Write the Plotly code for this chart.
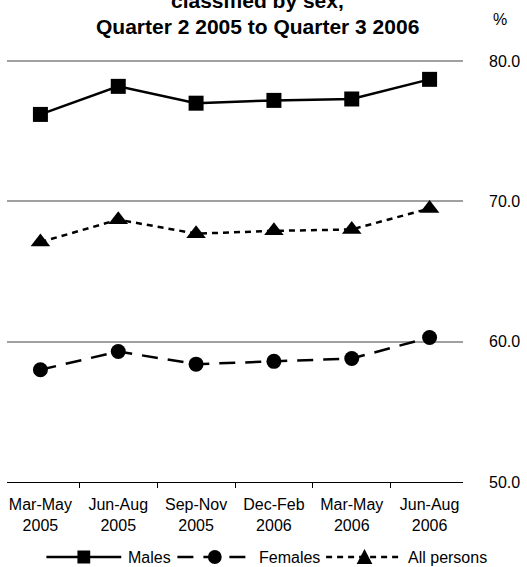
import plotly.graph_objects as go

# Quarterly periods (category axis)
periods = ["Mar-May<br>2005", "Jun-Aug<br>2005", "Sep-Nov<br>2005",
           "Dec-Feb<br>2006", "Mar-May<br>2006", "Jun-Aug<br>2006"]

# Employment rates, %
males = [76.2, 78.2, 77.0, 77.2, 77.3, 78.7]
females = [58.0, 59.3, 58.4, 58.6, 58.8, 60.3]
all_persons = [67.1, 68.7, 67.7, 67.9, 68.0, 69.5]

y_ticks = [50, 60, 70, 80]

FONT = "Liberation Sans, Arial, sans-serif"
W, H = 527, 567
ML, MR, MT, MB = 7, 57, 59, 85
PW, PH = W - ML - MR, H - MT - MB

SOLID, LONG_DASH, SHORT_DASH = "solid", "16px,10px", "6px,5px"

series = [
    ("Males", males, SOLID, "square", 15),
    ("Females", females, LONG_DASH, "circle", 15),
    ("All persons", all_persons, SHORT_DASH, "triangle-up", 17),
]

fig = go.Figure()
for name, vals, dash, sym, size in series:
    fig.add_trace(go.Scatter(
        x=periods, y=vals, name=name, mode="lines+markers",
        line=dict(color="black", width=2.5, dash=dash),
        marker=dict(symbol=sym, size=size, color="black"),
        showlegend=False,
    ))


def px_x(px):
    return (px - ML) / PW


def px_y(py):
    return (H - MB - py) / PH


# Key below the chart: long line samples with the marker in the middle
key_y = 557
keys = [
    ("Males", SOLID, "square", 47, 123, 128),
    ("Females", LONG_DASH, "circle", 180, 256, 261),
    ("All persons", SHORT_DASH, "triangle", 331, 409, 412),
]
for label, dash, sym, x0, x1, tx in keys:
    fig.add_shape(type="line", xref="paper", yref="paper",
                  x0=px_x(x0), x1=px_x(x1), y0=px_y(key_y), y1=px_y(key_y),
                  line=dict(color="black", width=2.5, dash=dash))
    cx = (x0 + x1) / 2
    if sym == "square":
        fig.add_shape(type="rect", xref="paper", yref="paper",
                      x0=px_x(cx - 6.5), x1=px_x(cx + 6.5),
                      y0=px_y(key_y + 6.5), y1=px_y(key_y - 6.5),
                      fillcolor="black", line=dict(width=0))
    elif sym == "circle":
        fig.add_shape(type="circle", xref="paper", yref="paper",
                      x0=px_x(cx - 7), x1=px_x(cx + 7),
                      y0=px_y(key_y + 7), y1=px_y(key_y - 7),
                      fillcolor="black", line=dict(width=0))
    else:
        path = "M {:.5f} {:.5f} L {:.5f} {:.5f} L {:.5f} {:.5f} Z".format(
            px_x(cx - 8), px_y(key_y + 7),
            px_x(cx + 8), px_y(key_y + 7),
            px_x(cx), px_y(key_y - 8))
        fig.add_shape(type="path", xref="paper", yref="paper", path=path,
                      fillcolor="black", line=dict(width=0))
    fig.add_annotation(text=label, xref="paper", yref="paper",
                       x=px_x(tx), y=px_y(key_y), xanchor="left",
                       yanchor="middle", showarrow=False,
                       font=dict(size=16, family=FONT))

fig.update_layout(
    width=W, height=H,
    margin=dict(l=ML, r=MR, t=MT, b=MB),
    paper_bgcolor="white", plot_bgcolor="white",
    font=dict(family=FONT, size=16, color="black"),
    showlegend=False,
    xaxis=dict(
        type="category", tickson="boundaries", ticks="outside",
        ticklen=5, tickcolor="black", showline=True, linecolor="black",
        linewidth=1, showgrid=False, zeroline=False,
        tickfont=dict(size=16), ticklabelstandoff=8,
    ),
    yaxis=dict(
        side="right", range=[50, 80.15], tickvals=y_ticks, tickformat=".1f",
        showgrid=True, gridcolor="#a0a0a0", gridwidth=2, zeroline=False,
        showline=False, ticks="", ticklabelstandoff=25,
        tickfont=dict(size=16),
    ),
)

# Chart heading (upper line runs off the top edge)
title_x = px_x(261)
fig.add_annotation(
    text="<b>classified by sex,</b>", xref="paper", yref="paper",
    x=title_x, y=px_y(8), xanchor="center", yanchor="bottom", yshift=-6,
    showarrow=False, font=dict(size=21, family=FONT),
)
fig.add_annotation(
    text="<b>Quarter 2 2005 to Quarter 3 2006</b>", xref="paper", yref="paper",
    x=title_x, y=px_y(26), xanchor="center", yanchor="middle",
    showarrow=False, font=dict(size=21, family=FONT),
)
# Unit label above the value axis
fig.add_annotation(
    text="%", xref="paper", yref="paper", x=1, y=px_y(19), xshift=37,
    xanchor="center", yanchor="middle", showarrow=False,
    font=dict(size=16, family=FONT),
)

fig.write_html("out.html")
